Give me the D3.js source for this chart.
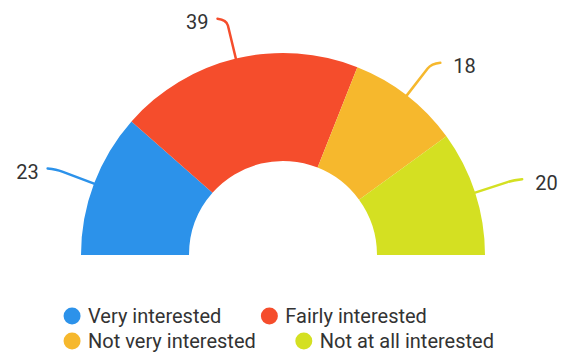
<!DOCTYPE html>
<html>
<head>
<meta charset="utf-8">
<title>Interest half donut</title>
<script src="https://cdn.jsdelivr.net/npm/d3@7"></script>
<style>
  body { margin: 0; background: #fff; }
  text { font-family: Roboto, "Liberation Sans", Arial, sans-serif; fill: #333; }
</style>
</head>
<body>
<svg width="569" height="353"></svg>
<script>
// data
var categories = ["Very interested", "Fairly interested", "Not very interested", "Not at all interested"];
var values = [23, 39, 18, 20];
var colors = ["#2c92ea", "#f54d2c", "#f6b82d", "#d4e022"];

var svg = d3.select("svg");
var cx = 283, cy = 255;
var outerR = 202, innerR = 94;

var g = svg.append("g").attr("transform", "translate(" + cx + "," + cy + ")");

var pie = d3.pie()
  .sort(null)
  .startAngle(-Math.PI / 2)
  .endAngle(Math.PI / 2)
  .value(function(d) { return d; });

var arcs = pie(values);

var arc = d3.arc().innerRadius(innerR).outerRadius(outerR);

g.selectAll("path.slice")
  .data(arcs)
  .enter()
  .append("path")
  .attr("class", "slice")
  .attr("d", arc)
  .attr("fill", function(d, i) { return colors[i]; });

// leader lines + value labels
var lineLen = 40, tailLen = 9;
arcs.forEach(function(d, i) {
  var a = (d.startAngle + d.endAngle) / 2;
  var sx = Math.sin(a), sy = -Math.cos(a);
  var p0 = [sx * outerR, sy * outerR];
  var p1 = [sx * (outerR + lineLen), sy * (outerR + lineLen)];
  var pre = [sx * (outerR + lineLen - 6), sy * (outerR + lineLen - 6)];
  var dir = sx < 0 ? -1 : 1;
  var p2 = [p1[0] + dir * tailLen, p1[1] - 1];
  g.append("path")
    .attr("d", "M" + p0 + "L" + pre + "Q" + p1 + " " + p2)
    .attr("fill", "none")
    .attr("stroke", colors[i])
    .attr("stroke-width", 2.5)
    .attr("stroke-linecap", "round");
  g.append("text")
    .attr("x", p2[0] + dir * (dir < 0 ? 9 : 13))
    .attr("y", p2[1] + 10.5)
    .attr("text-anchor", dir < 0 ? "end" : "start")
    .style("font-size", "20px")
    .text(values[i]);
});

// legend, two per row, flowing, block centered
var legend = svg.append("g");
var rowY = [316, 341], gap = 31, dotR = 8.5, textOff = 16;
var items = categories.map(function(c, i) {
  var it = legend.append("g");
  it.append("circle").attr("r", dotR).attr("fill", colors[i]);
  var t = it.append("text")
    .attr("x", textOff)
    .attr("y", 7)
    .style("font-size", "20px")
    .text(c);
  return { g: it, w: dotR + textOff + t.node().getComputedTextLength() };
});
var rows = [[0, 1], [2, 3]];
var rowW = rows.map(function(r) { return dotR + items[r[0]].w + gap + dotR + items[r[1]].w; });
var blockW = d3.max(rowW);
var x0 = cx - blockW / 2 + dotR;
rows.forEach(function(r, ri) {
  var x = x0;
  r.forEach(function(idx) {
    items[idx].g.attr("transform", "translate(" + x + "," + rowY[ri] + ")");
    x += items[idx].w + gap + dotR;
  });
});
</script>
</body>
</html>
